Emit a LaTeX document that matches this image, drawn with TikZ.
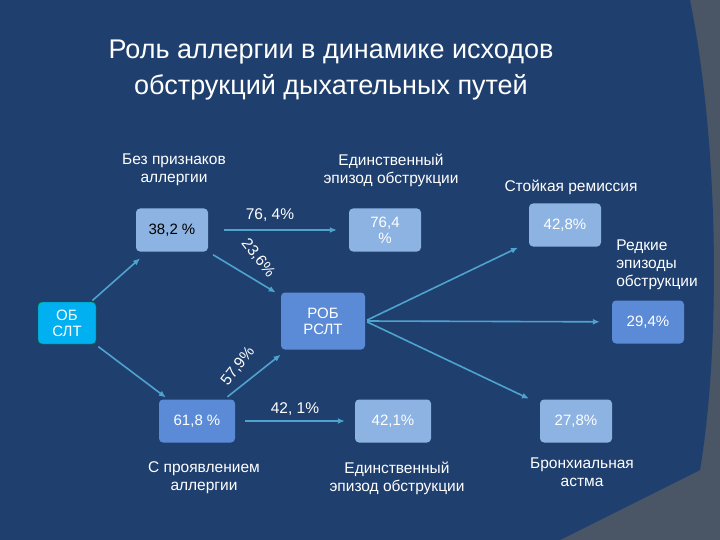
\documentclass[tikz,border=0pt]{standalone}
\usepackage{fontspec}
\setmainfont{Liberation Sans}
\usetikzlibrary{arrows.meta}
\begin{document}
\begin{tikzpicture}[x=1pt,y=-1pt,
  bx/.style={rounded corners=4pt,minimum width=72pt,minimum height=43pt,align=center,font=\fontsize{15}{16}\selectfont,text=white},
  lt/.style={bx,fill=lightb},
  md/.style={bx,fill=midb},
  lab/.style={align=center,text=white,font=\fontsize{15.5}{18}\selectfont},
  arr/.style={draw=arrc,line width=1.6pt,-{Latex[length=7pt,width=6pt]}}]
\definecolor{bg}{HTML}{1F3F6E}
\definecolor{grey}{HTML}{4A5566}
\definecolor{lightb}{HTML}{8DB3E2}
\definecolor{midb}{HTML}{5B8BD6}
\definecolor{arrc}{HTML}{4FA3CF}
\definecolor{cyanb}{HTML}{00B0F0}
\useasboundingbox (0,0) rectangle (720,540);
\fill[grey] (0,0) rectangle (720,540);
\fill[bg] (0,0) -- (690,0) .. controls (720,150) and (720,350) .. (700,470) -- (560,540) -- (0,540) -- cycle;
\node[lab,font=\fontsize{27}{36}\selectfont] (t) at (331,70) {Роль аллергии в динамике исходов\\обструкций дыхательных путей};
\node[lt,text=black] (a) at (172,230) {38,2 \%};
\node[lt] (b) at (385,230) {76,4\\\%};
\node[lt] (c) at (565,225) {42,8\%};
\node[bx,fill=cyanb,draw=green!50!black,minimum width=58pt,minimum height=42pt] (o) at (67,323) {ОБ\\СЛТ};
\node[md,minimum width=84pt,minimum height=57pt] (r) at (323,321) {РОБ\\РСЛТ};
\node[md] (d) at (648,322) {29,4\%};
\node[md,minimum width=76pt] (e) at (197,421) {61,8 \%};
\node[lt,minimum width=76pt] (f) at (393,421) {42,1\%};
\node[lt] (g) at (576,421) {27,8\%};
\node[lab] (l1) at (174,170) {Без признаков\\аллергии};
\node[lab] (l2) at (391,170) {Единственный\\эпизод обструкции};
\node[lab] (l3) at (571,187) {Стойкая ремиссия};
\node[lab,align=left] (l4) at (657,265) {Редкие\\эпизоды\\обструкции};
\node[lab] (l5) at (204,478) {С проявлением\\аллергии};
\node[lab] (l6) at (397,478) {Единственный\\эпизод обструкции};
\node[lab] (l7) at (582,472) {Бронхиальная\\астма};
\node[lab] (p1) at (270,215) {76, 4\%};
\node[lab] (p2) at (295,409) {42, 1\%};
\node[lab,rotate=-52] (p3) at (258,258) {23,6\%};
\node[lab,rotate=52] (p4) at (238,366) {57,9\%};
\draw[arr,shorten <=2pt,shorten >=10pt] (o) -- (a);
\draw[arr,shorten <=4pt,shorten >=3pt] (o) -- (e);
\draw[arr,shorten <=6pt,shorten >=6pt] (a) -- (r);
\draw[arr,shorten <=4pt,shorten >=8pt] (e) -- (r);
\draw[arr,shorten <=16pt,shorten >=12pt] (a) -- (b);
\draw[arr,shorten <=10pt,shorten >=10pt] (e) -- (f);
\draw[arr,shorten <=2pt,shorten >=12pt] (r.east) -- (c);
\draw[arr,shorten <=2pt,shorten >=12pt] (r.east) -- (d);
\draw[arr,shorten <=2pt,shorten >=12pt] (r.east) -- (g);
\end{tikzpicture}
\end{document}
